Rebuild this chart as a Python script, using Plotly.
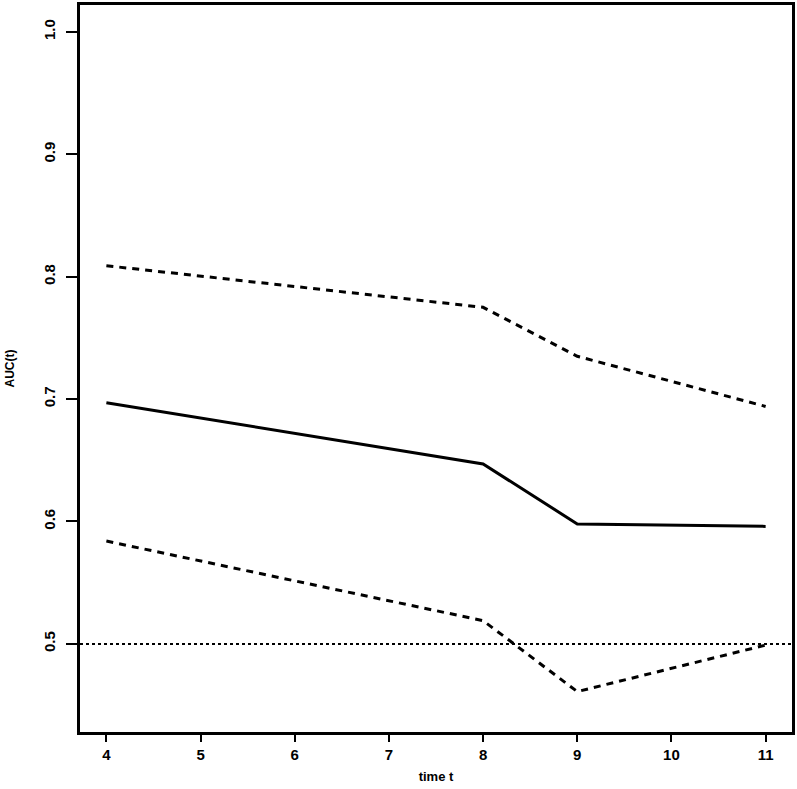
import plotly.graph_objects as go

# time points and AUC(t) estimates with pointwise bounds
time_t = [4, 8, 9, 11]
auc = [0.697, 0.647, 0.598, 0.596]
auc_upper = [0.809, 0.775, 0.735, 0.694]
auc_lower = [0.584, 0.519, 0.461, 0.499]

x_ticks = [4, 5, 6, 7, 8, 9, 10, 11]
y_ticks = [0.5, 0.6, 0.7, 0.8, 0.9, 1.0]

fig = go.Figure()

# reference line at 0.5
fig.add_hline(y=0.5, line=dict(color='black', width=2, dash='3px,3px'))

fig.add_trace(go.Scatter(
    x=time_t, y=auc_upper, mode='lines',
    line=dict(color='black', width=3, dash='7px,6px')
))
fig.add_trace(go.Scatter(
    x=time_t, y=auc, mode='lines',
    line=dict(color='black', width=3)
))
fig.add_trace(go.Scatter(
    x=time_t, y=auc_lower, mode='lines',
    line=dict(color='black', width=3, dash='7px,6px')
))

axis_font = dict(family='Liberation Sans, Arial', size=15, color='black')

fig.update_layout(
    width=797, height=789,
    margin=dict(l=80, r=2, t=2, b=57),
    plot_bgcolor='white',
    paper_bgcolor='white',
    showlegend=False,
    xaxis=dict(
        range=[3.72, 11.28],
        tickvals=x_ticks,
        ticktext=['<b>%d</b>' % v for v in x_ticks],
        ticks='outside', ticklen=7, tickwidth=2, tickcolor='black',
        showline=True, linewidth=3, linecolor='black', mirror=True,
        showgrid=False, zeroline=False,
        tickfont=axis_font,
        title=dict(text='<b>time t</b>', font=dict(family='Liberation Sans, Arial', size=13, color='black'), standoff=10),
    ),
    yaxis=dict(
        range=[0.428, 1.022],
        tickvals=y_ticks,
        ticktext=['<b>%.1f</b>' % v for v in y_ticks],
        tickangle=-90,
        ticks='outside', ticklen=11, tickwidth=2, tickcolor='black',
        ticklabelstandoff=5,
        showline=True, linewidth=3, linecolor='black', mirror=True,
        showgrid=False, zeroline=False,
        tickfont=axis_font,
        title=dict(text='<b>AUC(t)</b>', font=dict(family='Liberation Sans, Arial', size=12, color='black'), standoff=24),
    ),
)

fig.write_html(
    "out.html",
    config={'displayModeBar': False},
    post_script="document.body.style.margin='0';document.body.style.padding='0';"
)
